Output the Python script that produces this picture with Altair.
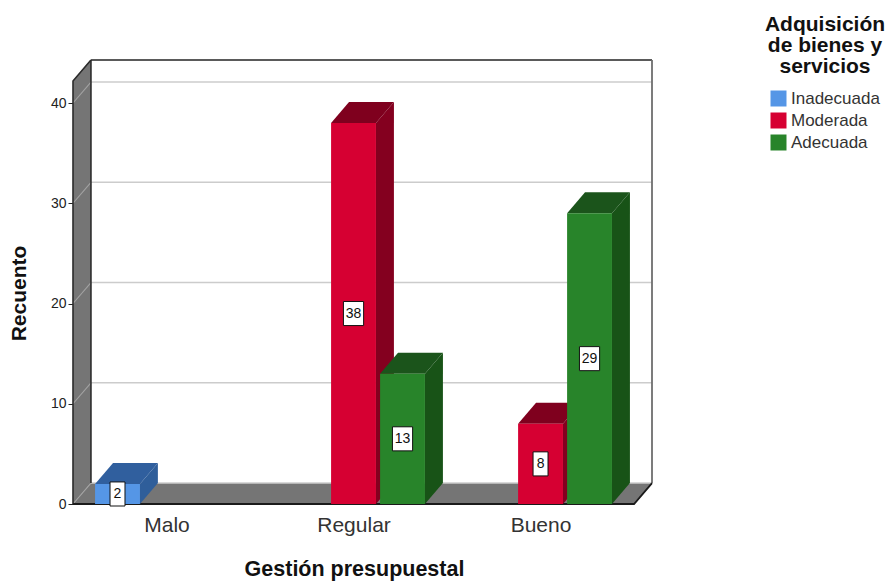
import json
import altair as alt
import pandas as pd

# Values read per category and satisfaction level
categories = ["Malo", "Regular", "Bueno"]
series_names = ["Inadecuada", "Moderada", "Adecuada"]
counts_malo = [2, 0, 0]
counts_regular = [0, 38, 13]
counts_bueno = [0, 8, 29]
all_counts = [counts_malo, counts_regular, counts_bueno]
tick_values = [0, 10, 20, 30, 40]

front_colors = ["#5596E6", "#D60032", "#28842A"]
top_colors = ["#305F9E", "#7F001E", "#1B541B"]
side_colors = ["#2F5E9A", "#84001F", "#185317"]

# Pseudo-3D geometry, in the units of the two scales
DEPTH_X = 0.096
DEPTH_Y = 2.09
BAR_W = 0.24
SLOT = 0.262
X_MIN, X_MAX = -0.5, 2.5
WALL_TOP = 42.2
Y_TOP = WALL_TOP + DEPTH_Y

FONT = "Liberation Sans"

x_enc = alt.X(
    "x:Q",
    scale=alt.Scale(domain=[X_MIN, X_MAX + DEPTH_X], nice=False, zero=False),
    axis=alt.Axis(
        values=[0, 1, 2],
        labelExpr=f"{json.dumps(categories)}[datum.value]",
        title="Gestión presupuestal",
        titleFont=FONT,
        titleFontSize=21.5,
        titleFontWeight="bold",
        titleColor="#111111",
        titleX=281,
        titleY=54,
        labelFont=FONT,
        labelFontSize=21,
        labelColor="#333333",
        labelPadding=10,
        labelAngle=0,
        domain=False,
        ticks=False,
        grid=False,
    ),
)
y_enc = alt.Y(
    "y:Q",
    scale=alt.Scale(domain=[0, Y_TOP], nice=False, zero=False),
    axis=alt.Axis(
        values=tick_values,
        title="Recuento",
        titleFont=FONT,
        titleFontSize=21,
        titleFontWeight="bold",
        titleColor="#111111",
        titleX=-44,
        titleY=233,
        labelFont=FONT,
        labelFontSize=14,
        labelColor="#222222",
        labelPadding=2,
        tickSize=5,
        tickColor="#222222",
        domain=False,
        grid=False,
    ),
)


def face(points, color):
    """Polygon between an upper and a lower edge, listed left to right."""
    frame = pd.DataFrame(points, columns=["x", "y", "y2"])
    return alt.Chart(frame).mark_area(color=color, orient="vertical", interpolate="linear").encode(
        x=x_enc, y=y_enc, y2=alt.Y2("y2:Q")
    )


def polyline(points, color, width=1.0):
    frame = pd.DataFrame(points, columns=["x", "y"]).assign(i=lambda d: range(len(d)))
    return alt.Chart(frame).mark_line(color=color, strokeWidth=width).encode(
        x=x_enc, y=y_enc, order=alt.Order("i:Q")
    )


layers = []

# Back wall
layers.append(face([(X_MIN + DEPTH_X, Y_TOP, DEPTH_Y), (X_MAX + DEPTH_X, Y_TOP, DEPTH_Y)], "#ffffff"))

# Left wall and floor
layers.append(face([(X_MIN, WALL_TOP, 0), (X_MIN + DEPTH_X, Y_TOP, DEPTH_Y)], "#757575"))
layers.append(face([
    (X_MIN, 0, 0),
    (X_MIN + DEPTH_X, DEPTH_Y, 0),
    (X_MAX, DEPTH_Y, 0),
    (X_MAX + DEPTH_X, DEPTH_Y, DEPTH_Y),
], "#757575"))

# Grid lines run along the back wall and slant down the left wall
for v in tick_values:
    layers.append(polyline([(X_MIN + DEPTH_X, v + DEPTH_Y), (X_MAX + DEPTH_X, v + DEPTH_Y)], "#cccccc", 1.6))
    layers.append(polyline([(X_MIN, v), (X_MIN + DEPTH_X, v + DEPTH_Y)], "#a3a3a3", 1.1))

# Frame edges
layers.append(polyline([(X_MIN + DEPTH_X, Y_TOP), (X_MAX + DEPTH_X, Y_TOP)], "#5a5a5a", 1.8))
layers.append(polyline([(X_MAX + DEPTH_X, Y_TOP), (X_MAX + DEPTH_X, DEPTH_Y)], "#6e6e6e", 1.8))
layers.append(polyline([(X_MIN + DEPTH_X, DEPTH_Y), (X_MIN + DEPTH_X, Y_TOP)], "#2b2b2b", 1.6))
layers.append(polyline([(X_MIN, 0), (X_MIN, WALL_TOP), (X_MIN + DEPTH_X, Y_TOP)], "#2b2b2b", 1.6))
layers.append(polyline([(X_MIN, 0), (X_MAX, 0), (X_MAX + DEPTH_X, DEPTH_Y)], "#1a1a1a", 1.8))

# Bars, left to right so neighbouring faces overlap properly
box_rows = []
text_rows = []
for c, row in enumerate(all_counts):
    for s, value in enumerate(row):
        if value == 0:
            continue
        left = c + (s - 1) * SLOT - BAR_W / 2
        right = left + BAR_W
        layers.append(face([
            (right, value, 0),
            (right + DEPTH_X, value + DEPTH_Y, DEPTH_Y),
        ], side_colors[s]))
        layers.append(face([
            (left, value, value),
            (left + DEPTH_X, value + DEPTH_Y, value),
            (right, value + DEPTH_Y, value),
            (right + DEPTH_X, value + DEPTH_Y, value + DEPTH_Y),
        ], top_colors[s]))
        front = pd.DataFrame([{
            "x": left, "x2": right, "y": 0, "y2": value, "series": series_names[s],
        }])
        layers.append(alt.Chart(front).mark_rect().encode(
            x=x_enc,
            x2=alt.X2("x2:Q"),
            y=y_enc,
            y2=alt.Y2("y2:Q"),
            color=alt.Color(
                "series:N",
                scale=alt.Scale(domain=series_names, range=front_colors),
                legend=alt.Legend(
                    title=["Adquisición", "de bienes y", "servicios"],
                    orient="none",
                    legendX=692,
                    legendY=-46,
                    titleFont=FONT,
                    titleFontSize=21,
                    titleFontWeight="bold",
                    titleColor="#111111",
                    titleAlign="center",
                    titleAnchor="middle",
                    titleLineHeight=21,
                    titlePadding=13,
                    labelFont=FONT,
                    labelFontSize=17,
                    labelColor="#333333",
                    labelLimit=200,
                    titleLimit=200,
                    symbolType="square",
                    symbolSize=256,
                    symbolStrokeWidth=0,
                    symbolOpacity=1,
                    rowPadding=4,
                    labelOffset=4,
                ),
            ),
        ))
        half_w = 0.04 if value < 10 else 0.054
        half_h = 1.2
        mid = value / 2
        centre = (left + right) / 2
        box_rows.append({"x": centre - half_w, "x2": centre + half_w, "y": mid - half_h, "y2": mid + half_h})
        text_rows.append({"x": centre, "y": mid, "label": str(value)})

layers.append(alt.Chart(pd.DataFrame(box_rows)).mark_rect(fill="#ffffff", stroke="#111111", strokeWidth=1).encode(
    x=x_enc, x2=alt.X2("x2:Q"), y=y_enc, y2=alt.Y2("y2:Q")
))
layers.append(alt.Chart(pd.DataFrame(text_rows)).mark_text(font=FONT, fontSize=14, color="#111111", baseline="middle").encode(
    x=x_enc, y=y_enc, text="label:N",
))

chart = alt.layer(*layers).properties(
    width=579,
    height=444,
    padding={"left": 73, "top": 60, "right": 237, "bottom": 77},
    autosize="none",
    background="#ffffff",
).configure_view(stroke=None)

chart.save("out.html", embed_options={"renderer": "svg", "actions": False})
